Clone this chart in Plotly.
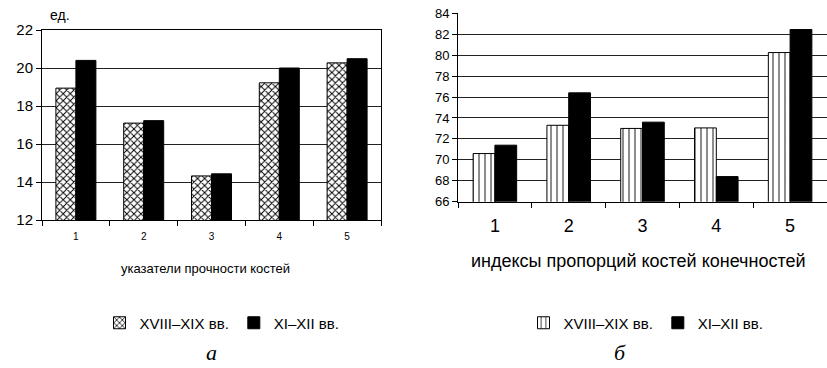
import plotly.graph_objects as go

# Categories (indicator numbers)
categories = ["1", "2", "3", "4", "5"]

# Panel "а": bone strength indicators, units
strength_18_19 = [18.94, 17.1, 14.32, 19.22, 20.27]
strength_11_12 = [20.4, 17.23, 14.43, 20.0, 20.49]

# Panel "б": limb bone proportion indices
index_18_19 = [70.6, 73.3, 73.0, 73.05, 80.25]
index_11_12 = [71.4, 76.4, 73.6, 68.4, 82.45]

series_names = ["XVIII–XIX вв.", "XI–XII вв."]
panel_titles = ["указатели прочности костей", "индексы пропорций костей конечностей"]
panel_letters = ["а", "б"]

W, H = 827, 368
FONT = "Liberation Sans, Arial, sans-serif"
SERIF = "Liberation Serif, Times New Roman, serif"


def px_x(x):
    return x / W


def px_y(y):
    return 1 - y / H


fig = go.Figure()

# Left panel
fig.add_trace(go.Bar(
    x=categories, y=strength_18_19, name=series_names[0],
    xaxis="x", yaxis="y", legend="legend",
    marker=dict(color="white", line=dict(color="black", width=1),
                pattern=dict(shape="x", fgcolor="black", bgcolor="white",
                             size=5, solidity=0.35)),
))
fig.add_trace(go.Bar(
    x=categories, y=strength_11_12, name=series_names[1],
    xaxis="x", yaxis="y", legend="legend",
    marker=dict(color="black", line=dict(color="black", width=1)),
))

# Right panel
fig.add_trace(go.Bar(
    x=categories, y=index_18_19, name=series_names[0],
    xaxis="x2", yaxis="y2", legend="legend2",
    marker=dict(color="white", line=dict(color="black", width=1),
                pattern=dict(shape="|", fgcolor="black", bgcolor="white",
                             size=6, solidity=0.15)),
))
fig.add_trace(go.Bar(
    x=categories, y=index_11_12, name=series_names[1],
    xaxis="x2", yaxis="y2", legend="legend2",
    marker=dict(color="black", line=dict(color="black", width=1)),
))

grid = dict(showgrid=True, gridcolor="#222", gridwidth=1)

legend_common = dict(
    orientation="h", xanchor="center", yanchor="middle",
    font=dict(family=FONT, size=15, color="black"),
    bgcolor="rgba(0,0,0,0)", itemwidth=30, traceorder="normal",
)

fig.update_layout(
    template="none",
    width=W, height=H,
    margin=dict(l=0, r=0, t=0, b=0, pad=0, autoexpand=False),
    paper_bgcolor="white", plot_bgcolor="white",
    font=dict(family=FONT, color="black"),
    barmode="group", bargap=0.41, bargroupgap=0,
    xaxis=dict(
        domain=[px_x(42), px_x(381)], anchor="y", automargin=False,
        range=[-0.5, 4.5], type="category",
        showline=True, linecolor="black", linewidth=1, mirror=True,
        ticks="outside", tickson="boundaries", ticklen=5, tickcolor="black",
        ticklabelstandoff=7,
        tickfont=dict(size=10, family=FONT), showgrid=False, zeroline=False,
    ),
    yaxis=dict(
        domain=[px_y(220), px_y(30)], anchor="x", automargin=False,
        range=[12, 22], dtick=2,
        showline=True, linecolor="black", linewidth=1, mirror=True,
        ticks="outside", ticklen=5, tickcolor="black", zeroline=False,
        tickfont=dict(size=15, family=FONT), **grid,
    ),
    xaxis2=dict(
        domain=[px_x(458), 1.0], anchor="y2", automargin=False,
        range=[-0.5, 4.5], type="category",
        showline=True, linecolor="black", linewidth=1,
        ticks="outside", tickson="boundaries", ticklen=5, tickcolor="black",
        ticklabelstandoff=8,
        tickfont=dict(size=18, family=FONT), showgrid=False, zeroline=False,
    ),
    yaxis2=dict(
        domain=[px_y(201.7), px_y(13.3)], anchor="x2", automargin=False,
        range=[66, 84], dtick=2,
        showline=True, linecolor="black", linewidth=1,
        ticks="outside", ticklen=5, tickcolor="black", zeroline=False,
        tickfont=dict(size=13, family=FONT), **grid,
    ),
    legend=dict(x=px_x(222), y=px_y(323), **legend_common),
    legend2=dict(x=px_x(646), y=px_y(323), **legend_common),
)

annotations = [
    dict(text="ед.", x=px_x(60), y=px_y(15), font=dict(size=14, family=FONT)),
    dict(text=panel_titles[0], x=px_x(205), y=px_y(268),
         font=dict(size=13, family=FONT)),
    dict(text=panel_titles[1], x=px_x(638), y=px_y(261),
         font=dict(size=18, family=FONT)),
    dict(text="<i>" + panel_letters[0] + "</i>", x=px_x(211), y=px_y(352),
         font=dict(size=22, family=SERIF)),
    dict(text="<i>" + panel_letters[1] + "</i>", x=px_x(620), y=px_y(352),
         font=dict(size=22, family=SERIF)),
]
for a in annotations:
    a.update(xref="paper", yref="paper", xanchor="center", yanchor="middle",
             showarrow=False)
fig.update_layout(annotations=annotations)

fig.write_html("out.html")
